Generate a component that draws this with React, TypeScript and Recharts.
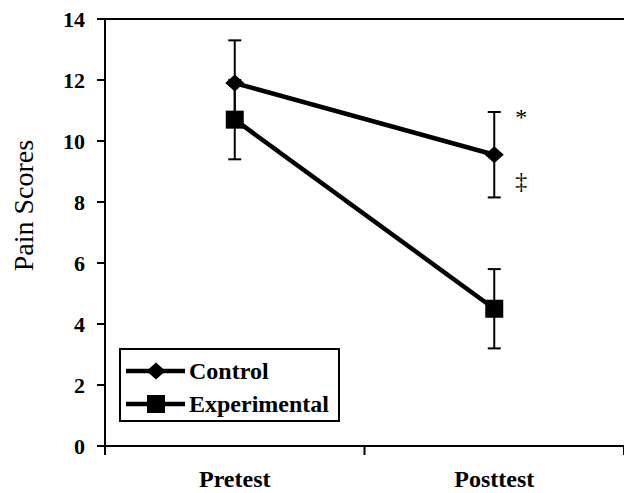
import React from 'react';
import { LineChart, Line, XAxis, YAxis, ErrorBar, ReferenceLine, ReferenceDot, Legend } from 'recharts';

const categories = ['Pretest', 'Posttest'];
const controlMeans = [11.9, 9.55];
const controlErr = [1.4, 1.4];
const experimentalMeans = [10.7, 4.5];
const experimentalErr = [1.3, 1.3];
const yTicks = [0, 2, 4, 6, 8, 10, 12, 14];
const annotations = [
  { y: 10.8, text: '*' },
  { y: 8.7, text: '‡' },
];

const FONT = "'Liberation Serif', 'Times New Roman', serif";

const data = categories.map((c, i) => ({
  x: i + 0.5,
  name: c,
  control: controlMeans[i],
  controlErr: controlErr[i],
  experimental: experimentalMeans[i],
  experimentalErr: experimentalErr[i],
}));

const Diamond = (props: any) => {
  const { cx, cy } = props;
  if (cx == null || cy == null) return null;
  return <polygon points={`${cx},${cy - 8.5} ${cx + 9.5},${cy} ${cx},${cy + 8.5} ${cx - 9.5},${cy}`} fill="#000" />;
};

const Square = (props: any) => {
  const { cx, cy } = props;
  if (cx == null || cy == null) return null;
  return <rect x={cx - 9} y={cy - 9} width={18} height={18} fill="#000" />;
};

const XTick = (props: any) => {
  const { x, y, payload } = props;
  const v = payload.value;
  if (Number.isInteger(v)) {
    return <line x1={x} y1={y} x2={x} y2={y + 9} stroke="#000" strokeWidth={2} />;
  }
  return (
    <text x={x} y={y + 41} textAnchor="middle" fontFamily={FONT} fontSize={24} fontWeight="bold" fill="#000">
      {categories[Math.floor(v)]}
    </text>
  );
};

const YLabel = (props: any) => {
  const vb = props.viewBox || { x: 0, y: 0, width: 0, height: 0 };
  const x = vb.x + 33;
  const y = vb.y + vb.height * 0.437;
  return (
    <text x={x} y={y} transform={`rotate(-90 ${x} ${y})`} textAnchor="middle" fontFamily={FONT} fontSize={28} fill="#000">
      Pain Scores
    </text>
  );
};

const AnnotationLabel = (props: any) => {
  const vb = props.viewBox || { x: 0, y: 0, width: 0, height: 0 };
  const cx = vb.x + (vb.width || 0) / 2;
  const cy = vb.y + (vb.height || 0) / 2;
  return (
    <text x={cx + 27} y={cy} dy="0.36em" textAnchor="middle" fontFamily={FONT} fontSize={24} fill="#000">
      {props.value}
    </text>
  );
};

const LegendContent = () => {
  const rows = [
    { name: 'Control', shape: 'diamond' },
    { name: 'Experimental', shape: 'square' },
  ];
  return (
    <div style={{ border: '2px solid #000', width: 221, height: 74, boxSizing: 'border-box', background: '#fff', paddingTop: 4 }}>
      {rows.map((r) => (
        <div key={r.name} style={{ display: 'flex', alignItems: 'center', height: 33 }}>
          <svg width={66} height={24} style={{ marginLeft: 2 }}>
            <line x1={3} y1={12} x2={62} y2={12} stroke="#000" strokeWidth={4.5} />
            {r.shape === 'diamond' ? (
              <polygon points="33,3.5 42.5,12 33,20.5 23.5,12" fill="#000" />
            ) : (
              <rect x={24} y={3} width={18} height={18} fill="#000" />
            )}
          </svg>
          <span style={{ fontFamily: FONT, fontSize: 24, fontWeight: 'bold', color: '#000', lineHeight: '24px' }}>{r.name}</span>
        </div>
      ))}
    </div>
  );
};

export default function App() {
  return (
    <div style={{ position: 'absolute', left: 0, top: 0, width: 624, height: 493, background: '#fff' }}>
      <LineChart width={624} height={493} data={data} margin={{ top: 19, right: 0, bottom: 0, left: 0 }}>
        <XAxis
          type="number"
          dataKey="x"
          domain={[0, 2]}
          ticks={[0, 0.5, 1, 1.5, 2]}
          tick={<XTick />}
          tickLine={false}
          tickSize={0}
          tickMargin={0}
          height={47}
          axisLine={{ stroke: '#000', strokeWidth: 2 }}
          interval={0}
        />
        <YAxis
          type="number"
          domain={[0, 14]}
          ticks={yTicks}
          width={105}
          tickSize={8}
          tickMargin={12}
          interval={0}
          axisLine={{ stroke: '#000', strokeWidth: 2 }}
          tickLine={{ stroke: '#000', strokeWidth: 2 }}
          tick={{ fontFamily: FONT, fontSize: 22, fontWeight: 'bold', fill: '#000' }}
          label={<YLabel />}
        />
        <ReferenceLine y={14} stroke="#000" strokeWidth={2} />
        <Legend
          layout="vertical"
          align="center"
          verticalAlign="middle"
          content={<LegendContent />}
          wrapperStyle={{ left: 119, top: 348, width: 221, height: 74 }}
        />
        <Line
          dataKey="control"
          name="Control"
          stroke="#000"
          strokeWidth={4.5}
          dot={<Diamond />}
          activeDot={false}
          isAnimationActive={false}
        >
          <ErrorBar dataKey="controlErr" direction="y" width={6.5} stroke="#000" strokeWidth={2} />
        </Line>
        <Line
          dataKey="experimental"
          name="Experimental"
          stroke="#000"
          strokeWidth={4.5}
          dot={<Square />}
          activeDot={false}
          isAnimationActive={false}
        >
          <ErrorBar dataKey="experimentalErr" direction="y" width={6.5} stroke="#000" strokeWidth={2} />
        </Line>
        {annotations.map((a) => (
          <ReferenceDot
            key={a.text}
            x={1.5}
            y={a.y}
            r={0}
            fill="none"
            stroke="none"
            label={<AnnotationLabel value={a.text} />}
          />
        ))}
      </LineChart>
    </div>
  );
}
